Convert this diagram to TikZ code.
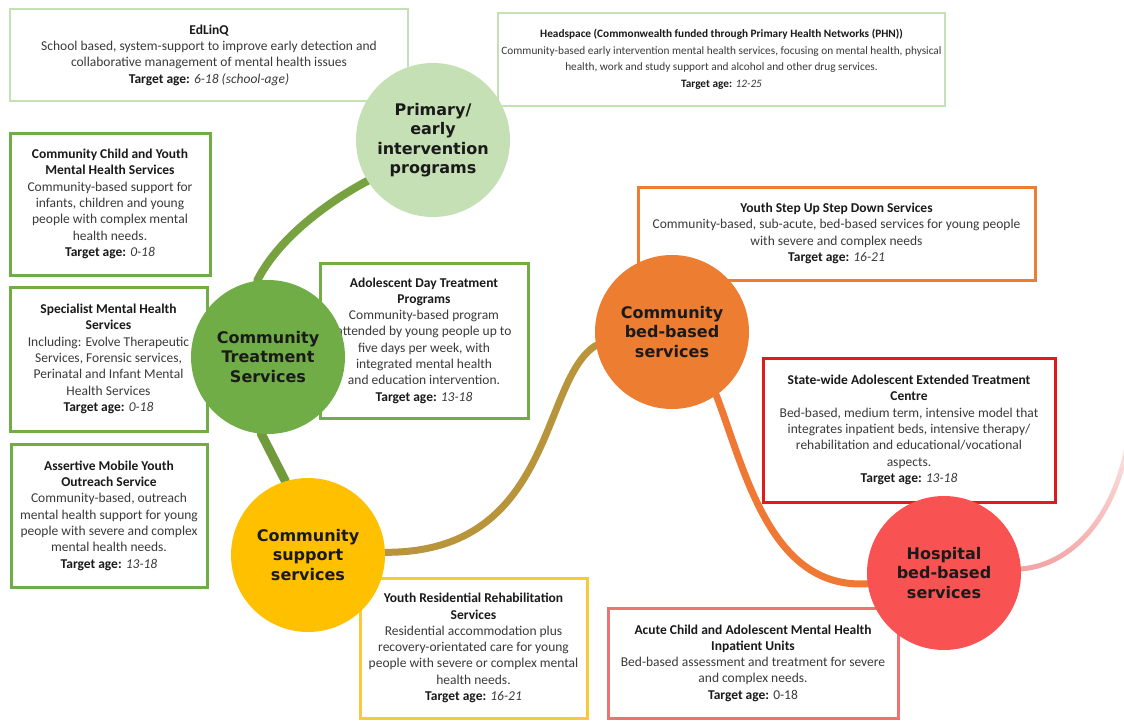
\documentclass[tikz,border=0pt]{standalone}
\usepackage{fontspec}
\usetikzlibrary{fadings}
\newfontfamily\boxfont{Carlito}
\newfontfamily\circfont{DejaVu Sans}
\definecolor{lgreen}{HTML}{C5E0B4}
\definecolor{dgreen}{HTML}{70AD47}
\definecolor{gold}{HTML}{FFC000}
\definecolor{orng}{HTML}{ED7D31}
\definecolor{hred}{HTML}{F95252}
\definecolor{bred}{HTML}{E01B1B}
\definecolor{pred}{HTML}{EE7272}
\definecolor{ygold}{HTML}{F9C93A}
\definecolor{titlec}{HTML}{1A1A1A}
\definecolor{bodyc}{HTML}{3A3A3A}
\definecolor{lnkgreen}{HTML}{77A23F}
\definecolor{lnkbrown}{HTML}{B8953B}
\definecolor{lnkorange}{HTML}{EF7834}
\definecolor{lnkpink}{HTML}{F4A3A3}
\newcommand{\boxtitle}[1]{{\bfseries\color{titlec}#1}}
\newcommand{\tage}[1]{{\bfseries\color{titlec}Target age:} \textit{#1}}
\tikzfading[name=tailfade, bottom color=transparent!0, top color=transparent!75]
\pgfdeclarelayer{bg}
\pgfsetlayers{bg,main}
\tikzset{
  infobox/.style={draw, fill=white, line width=2.5pt, inner sep=0pt, align=center,
    text=bodyc, font=\boxfont\fontsize{13.5}{16.3}\selectfont},
  hub/.style={circle, draw=none, inner sep=0pt, minimum size=154pt, align=center,
    text=titlec, font=\circfont\bfseries\fontsize{16}{19.5}\selectfont},
  link/.style={line width=8pt, line cap=round}
}
\begin{document}
\begin{tikzpicture}[x=1pt,y=-1pt]
\useasboundingbox (0,0) rectangle (1124,720);

% boxes
\node[infobox, draw=lgreen, minimum width=398pt, minimum height=92pt] (edl) at (209,55)
  {\boxtitle{EdLinQ}\\School based, system-support to improve early detection and\\collaborative management of mental health issues\\\tage{6-18 (school-age)}};
\node[infobox, draw=lgreen, minimum width=447pt, minimum height=93pt,
      font=\boxfont\fontsize{11.3}{16.5}\selectfont] (hsp) at (721.5,59.5)
  {\boxtitle{Headspace (Commonwealth funded through Primary Health Networks (PHN))}\\Community-based early intervention mental health services, focusing on mental health, physical\\health, work and study support and alcohol and other drug services.\\\tage{12-25}};
\node[infobox, draw=dgreen, line width=3pt, minimum width=200pt, minimum height=142pt] (ccy) at (110,204)
  {\boxtitle{Community Child and Youth}\\\boxtitle{Mental Health Services}\\Community-based support for\\infants, children and young\\people with complex mental\\health needs.\\\tage{0-18}};
\node[infobox, draw=dgreen, line width=3pt, minimum width=197pt, minimum height=144pt] (smh) at (108.5,359)
  {\boxtitle{Specialist Mental Health}\\\boxtitle{Services}\\Including: Evolve Therapeutic\\Services, Forensic services,\\Perinatal and Infant Mental\\Health Services\\\tage{0-18}};
\node[infobox, draw=dgreen, line width=3pt, minimum width=196pt, minimum height=143pt] (amy) at (109,515.5)
  {\boxtitle{Assertive Mobile Youth}\\\boxtitle{Outreach Service}\\Community-based, outreach\\mental health support for young\\people with severe and complex\\mental health needs.\\\tage{13-18}};
\node[infobox, draw=dgreen, line width=3pt, minimum width=208pt, minimum height=155pt] (adt) at (424,340.5)
  {\boxtitle{Adolescent Day Treatment}\\\boxtitle{Programs}\\Community-based program\\attended by young people up to\\five days per week, with\\integrated mental health\\and education intervention.\\\tage{13-18}};
\node[infobox, draw=orng, line width=3pt, minimum width=397pt, minimum height=93pt] (ysu) at (836.5,233.5)
  {\boxtitle{Youth Step Up Step Down Services}\\Community-based, sub-acute, bed-based services for young people\\with severe and complex needs\\\tage{16-21}};
\node[infobox, draw=bred, line width=3pt, minimum width=292pt, minimum height=144pt] (sat) at (909,430)
  {\boxtitle{State-wide Adolescent Extended Treatment}\\\boxtitle{Centre}\\Bed-based, medium term, intensive model that\\integrates inpatient beds, intensive therapy/\\rehabilitation and educational/vocational\\aspects.\\\tage{13-18}};
\node[infobox, draw=ygold, line width=3pt, minimum width=227pt, minimum height=140pt] (yrr) at (473.5,648)
  {\boxtitle{Youth Residential Rehabilitation}\\\boxtitle{Services}\\Residential accommodation plus\\recovery-orientated care for young\\people with severe or complex mental\\health needs.\\\tage{16-21}};
\node[infobox, draw=pred, line width=3pt, minimum width=290pt, minimum height=110pt] (acu) at (753,663)
  {\boxtitle{Acute Child and Adolescent Mental Health}\\\boxtitle{Inpatient Units}\\Bed-based assessment and treatment for severe\\and complex needs.\\{\bfseries\color{titlec}Target age:} 0-18};

% hubs
\node[hub, fill=lgreen] (prim) at (433,140) {Primary/\\early\\intervention\\programs};
\node[hub, fill=dgreen] (cts) at (268,357) {Community\\Treatment\\Services};
\node[hub, fill=gold] (css) at (308,555) {Community\\support\\services};
\node[hub, fill=orng] (cbs) at (672,332) {Community\\bed-based\\services};
\node[hub, fill=hred] (hbs) at (944,573) {Hospital\\bed-based\\services};
\coordinate (tail) at (1128,440);

% connectors (behind everything)
\begin{pgfonlayer}{bg}
\fill[white] (0,0) rectangle (1124,720);
\draw[link, lnkgreen] (prim.212) .. controls (335,198) and (280,235) .. (cts.98);
\draw[link, lnkgreen!95!black, line width=9pt] (cts.265) -- (css.107);
\draw[link, lnkbrown, line width=7pt] (css.2) .. controls (555,553) and (540,380) .. (cbs.190);
\draw[link, lnkorange, line width=7pt] (cbs.305) .. controls (745,470) and (770,590) .. (hbs.188);
\draw[link, lnkpink, line width=5pt, path fading=tailfade] (hbs.3) .. controls (1070,565) and (1115,520) .. (tail);
\end{pgfonlayer}
\end{tikzpicture}
\end{document}
